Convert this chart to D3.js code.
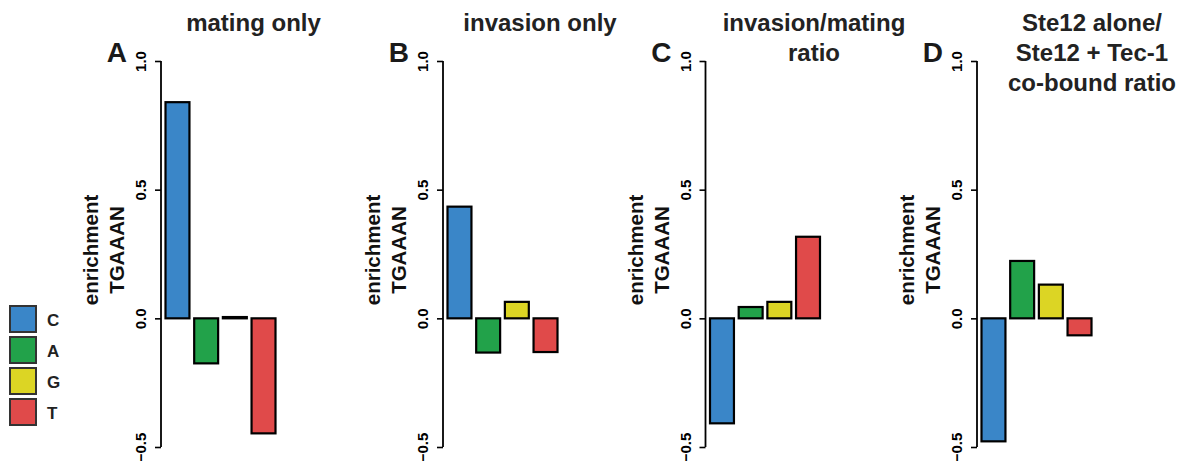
<!DOCTYPE html>
<html>
<head>
<meta charset="utf-8">
<script src="https://cdn.jsdelivr.net/npm/d3@7"></script>
<style>
  body { margin: 0; background: #fff; }
  svg { display: block; font-family: "Liberation Sans", Arial, Helvetica, sans-serif; font-weight: bold; }
  .tick text { font-size: 15px; font-weight: bold; }
</style>
</head>
<body>
<div id="chart"></div>
<script>
// data
var bases = ["C", "A", "G", "T"];
var baseColors = ["#3a86c8", "#22a24a", "#dcd524", "#e04a4a"];
var panelLetters = ["A", "B", "C", "D"];
var panelTitles = [
  ["mating only"],
  ["invasion only"],
  ["invasion/mating", "ratio"],
  ["Ste12 alone/", "Ste12 + Tec-1", "co-bound ratio"]
];
var matingOnly = [0.84, -0.175, 0.005, -0.447];
var invasionOnly = [0.434, -0.133, 0.064, -0.131];
var invasionMatingRatio = [-0.408, 0.044, 0.064, 0.317];
var coBoundRatio = [-0.478, 0.223, 0.131, -0.066];
var panelValues = [matingOnly, invasionOnly, invasionMatingRatio, coBoundRatio];
var yTicks = [-0.5, 0.0, 0.5, 1.0];
var yTitle = ["enrichment", "TGAAAN"];

const width = 1189, height = 461;
var axisX = [161, 443, 705.5, 977];
var titleX = [253.5, 540, 814, 1092];

var svg = d3.select("#chart").append("svg")
    .attr("width", width)
    .attr("height", height);

var y = d3.scaleLinear().domain([-0.5, 1.0]).range([447, 61]);

panelValues.forEach(function(vals, p) {
  var ax = axisX[p];
  var g = svg.append("g");

  var x = d3.scaleBand()
      .domain(bases)
      .range([ax + 4.5, ax + 4.5 + 110])
      .paddingInner(0.165)
      .paddingOuter(0);

  // bars
  g.selectAll("rect")
      .data(vals)
      .enter()
      .append("rect")
      .attr("x", function(d, i) { return x(bases[i]); })
      .attr("width", x.bandwidth())
      .attr("y", function(d) { return Math.min(y(d), y(0)); })
      .attr("height", function(d) { return Math.abs(y(d) - y(0)); })
      .attr("fill", function(d, i) { return baseColors[i]; })
      .attr("stroke", "#000")
      .attr("stroke-width", 2.2);

  // y axis, R style
  var yAxis = d3.axisLeft(y).tickValues(yTicks).tickSize(6).tickFormat(d3.format(".1f"));
  var axg = g.append("g")
      .attr("transform", "translate(" + ax + ",0)")
      .call(yAxis)
      .attr("font-family", "'Liberation Sans', Arial, sans-serif");
  axg.select(".domain").remove();
  axg.append("line")
      .attr("y1", y(1.0)).attr("y2", y(-0.5))
      .attr("stroke", "#000").attr("stroke-width", 1.8);
  axg.selectAll(".tick line").attr("stroke-width", 1.6);
  axg.selectAll(".tick text")
      .attr("x", null).attr("dy", null)
      .attr("transform", "translate(-15,0) rotate(-90)")
      .attr("text-anchor", "middle")
      .attr("fill", "#000");

  // y title
  yTitle.forEach(function(t, k) {
    g.append("text")
        .attr("transform", "translate(" + (ax - 63 + k * 26) + ",250) rotate(-90)")
        .attr("text-anchor", "middle")
        .style("font-size", "20.5px")
        .attr("fill", "#111")
        .text(t);
  });

  // panel letter
  g.append("text")
      .attr("x", ax - 34)
      .attr("y", 62)
      .attr("text-anchor", "end")
      .style("font-size", "28px")
      .attr("fill", "#1a1a1a")
      .text(panelLetters[p]);

  // title
  panelTitles[p].forEach(function(t, k) {
    g.append("text")
        .attr("x", titleX[p])
        .attr("y", 31 + k * 30)
        .attr("text-anchor", "middle")
        .style("font-size", "24px")
        .attr("fill", "#222")
        .text(t);
  });
});

// legend
var legend = svg.append("g").attr("transform", "translate(10,306)");
var item = legend.selectAll("g")
    .data(bases)
    .enter()
    .append("g")
    .attr("transform", function(d, i) { return "translate(0," + i * 31 + ")"; });
item.append("rect")
    .attr("width", 26).attr("height", 26)
    .attr("fill", function(d, i) { return baseColors[i]; })
    .attr("stroke", "#333")
    .attr("stroke-width", 2);
item.append("text")
    .attr("x", 37).attr("y", 19.5)
    .style("font-size", "17px")
    .attr("fill", "#222")
    .text(function(d) { return d; });
</script>
</body>
</html>
